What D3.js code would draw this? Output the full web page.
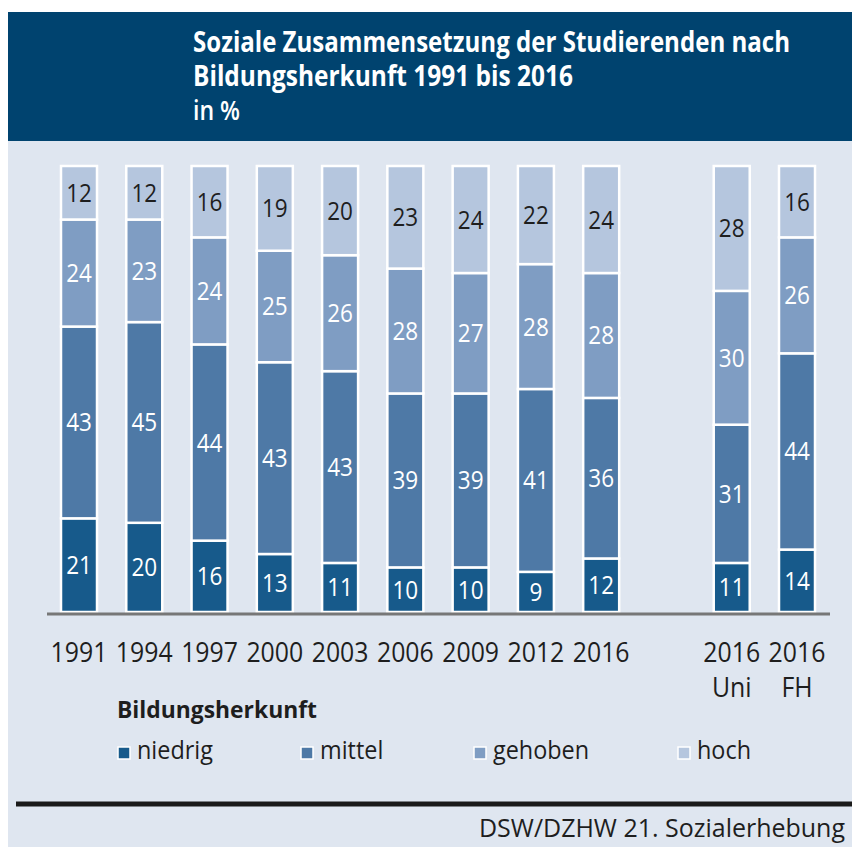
<!DOCTYPE html>
<html>
<head>
<meta charset="utf-8">
<script src="https://cdn.jsdelivr.net/npm/d3@7"></script>
<style>
  body { margin: 0; background: #fff; }
  text { font-family: "Open Sans", "Noto Sans", sans-serif; }
</style>
</head>
<body>
<div id="chart"></div>
<script>

// categories (the empty slot keeps the gap before the Uni/FH bars)
var categories = ["1991", "1994", "1997", "2000", "2003", "2006", "2009", "2012", "2016", "gap", "2016 Uni", "2016 FH"];
var yearLabels = ["1991", "1994", "1997", "2000", "2003", "2006", "2009", "2012", "2016", "", "2016", "2016"];
var subLabels  = ["", "", "", "", "", "", "", "", "", "", "Uni", "FH"];

var seriesKeys = ["niedrig", "mittel", "gehoben", "hoch"];
var niedrig = [21, 20, 16, 13, 11, 10, 10,  9, 12, null, 11, 14];
var mittel  = [43, 45, 44, 43, 43, 39, 39, 41, 36, null, 31, 44];
var gehoben = [24, 23, 24, 25, 26, 28, 27, 28, 28, null, 30, 26];
var hoch    = [12, 12, 16, 19, 20, 23, 24, 22, 24, null, 28, 16];

var colors = ["#175a8b", "#4e79a6", "#7f9dc3", "#b5c6de"];
var labelColors = ["#fff", "#fff", "#fff", "#1e1e1e"];

var W = 852, H = 847;

var svg = d3.select("#chart").append("svg")
    .attr("width", W)
    .attr("height", H);

// squeeze text horizontally a bit, the original uses a condensed face
function condense(sel, f) {
    sel.each(function() {
        var len = this.getComputedTextLength();
        if (!len) return;
        d3.select(this)
            .attr("textLength", len * f)
            .attr("lengthAdjust", "spacingAndGlyphs");
    });
}

// backgrounds
svg.append("rect").attr("x", 8).attr("y", 141).attr("width", W - 8).attr("height", H - 141).attr("fill", "#dfe6f0");
svg.append("rect").attr("x", 8).attr("y", 12).attr("width", W - 8).attr("height", 129).attr("fill", "#00436f");

// title
var title = svg.append("g").attr("fill", "#fff");
title.append("text").attr("x", 193).attr("y", 52).attr("font-size", 28).attr("font-weight", "bold")
    .text("Soziale Zusammensetzung der Studierenden nach")
    .attr("textLength", 597).attr("lengthAdjust", "spacingAndGlyphs");
title.append("text").attr("x", 193).attr("y", 86).attr("font-size", 28).attr("font-weight", "bold")
    .text("Bildungsherkunft 1991 bis 2016")
    .attr("textLength", 380).attr("lengthAdjust", "spacingAndGlyphs");
title.append("text").attr("x", 193).attr("y", 120).attr("font-size", 27).attr("font-weight", 600)
    .text("in %")
    .attr("textLength", 47).attr("lengthAdjust", "spacingAndGlyphs");

// build rows for d3.stack
var rows = categories.map(function(c, i) {
    return {cat: c, niedrig: niedrig[i], mittel: mittel[i], gehoben: gehoben[i], hoch: hoch[i]};
}).filter(function(d) { return d.niedrig !== null; });

var stacked = d3.stack().keys(seriesKeys)(rows);

// scales
var x = d3.scalePoint()
    .domain(categories)
    .range([79, 797]);

var y = d3.scaleLinear()
    .domain([0, 100])
    .range([612, 166]);

var barW = 36;

var layers = svg.selectAll("g.layer")
    .data(stacked)
    .enter().append("g")
    .attr("class", "layer")
    .attr("fill", function(d, i) { return colors[i]; });

layers.selectAll("rect")
    .data(function(d) { return d; })
    .enter().append("rect")
    .attr("x", function(d) { return x(d.data.cat) - barW / 2; })
    .attr("y", function(d) { return y(d[1]); })
    .attr("width", barW)
    .attr("height", function(d) { return y(d[0]) - y(d[1]); })
    .attr("stroke", "#fff")
    .attr("stroke-width", 2.5);

// value labels
stacked.forEach(function(layer, li) {
    svg.append("g").selectAll("text")
        .data(layer)
        .enter().append("text")
        .attr("x", function(d) { return x(d.data.cat); })
        .attr("y", function(d) { return (y(d[0]) + y(d[1])) / 2 + 9; })
        .attr("text-anchor", "middle")
        .attr("font-size", 25)
        .attr("fill", labelColors[li])
        .text(function(d) { return d[1] - d[0]; })
        .call(condense, 0.9);
});

// baseline
svg.append("line")
    .attr("x1", 47).attr("x2", 830)
    .attr("y1", y(0) + 2).attr("y2", y(0) + 2)
    .attr("stroke", "#777").attr("stroke-width", 3);

// category labels
svg.append("g").selectAll("text")
    .data(categories)
    .enter().append("text")
    .attr("x", function(d) { return x(d); })
    .attr("y", 662)
    .attr("text-anchor", "middle")
    .attr("font-size", 27)
    .attr("fill", "#1e1e1e")
    .text(function(d, i) { return yearLabels[i]; })
    .call(condense, 0.92);

svg.append("g").selectAll("text")
    .data(categories)
    .enter().append("text")
    .attr("x", function(d) { return x(d); })
    .attr("y", 697)
    .attr("text-anchor", "middle")
    .attr("font-size", 27)
    .attr("fill", "#1e1e1e")
    .text(function(d, i) { return subLabels[i]; })
    .call(condense, 0.92);

// legend
svg.append("text")
    .attr("x", 117).attr("y", 718)
    .attr("font-size", 24).attr("font-weight", "bold")
    .attr("fill", "#1e1e1e")
    .text("Bildungsherkunft")
    .attr("textLength", 200).attr("lengthAdjust", "spacingAndGlyphs");

var legendX = [118, 301, 474, 678];

var legend = svg.selectAll("g.legend")
    .data(seriesKeys)
    .enter().append("g")
    .attr("class", "legend")
    .attr("transform", function(d, i) { return "translate(" + legendX[i] + ",747)"; });

legend.append("rect")
    .attr("width", 12).attr("height", 12)
    .attr("fill", function(d, i) { return colors[i]; })
    .attr("stroke", "#fff").attr("stroke-width", 1.5);

legend.append("text")
    .attr("x", 19).attr("y", 12)
    .attr("font-size", 26)
    .attr("fill", "#1e1e1e")
    .text(function(d) { return d; })
    .call(condense, 0.9);

// footer
svg.append("line")
    .attr("x1", 16).attr("x2", W)
    .attr("y1", 804).attr("y2", 804)
    .attr("stroke", "#1a1a1a").attr("stroke-width", 5);

svg.append("text")
    .attr("x", 845).attr("y", 837)
    .attr("text-anchor", "end")
    .attr("font-size", 26)
    .attr("fill", "#1e1e1e")
    .text("DSW/DZHW 21. Sozialerhebung")
    .attr("textLength", 366).attr("lengthAdjust", "spacingAndGlyphs");

</script>
</body>
</html>
